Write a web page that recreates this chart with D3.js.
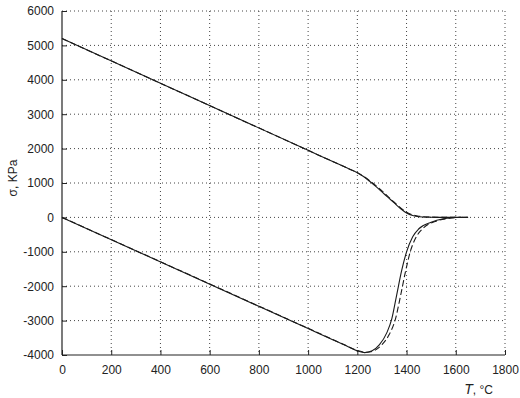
<!DOCTYPE html>
<html>
<head>
<meta charset="utf-8">
<script src="https://cdn.jsdelivr.net/npm/d3@7"></script>
<style>
body { margin: 0; background: #fff; }
svg text { font-family: "Liberation Sans", Arial, sans-serif; font-size: 12px; fill: #222; }
</style>
</head>
<body>
<svg id="chart" width="520" height="398"></svg>
<script>
// temperature (°C) / stress (kPa)
const upperSolidT = [0, 1000, 1100, 1150, 1200, 1225, 1250, 1275, 1300, 1325, 1350, 1375, 1400, 1425, 1450, 1500, 1550, 1650];
const upperSolidS = [5200, 1950, 1625, 1462, 1300, 1190, 1050, 900, 740, 580, 420, 260, 130, 55, 20, 5, 0, 0];
const upperDashT = [0, 1000, 1100, 1150, 1200, 1250, 1300, 1350, 1400, 1450, 1500, 1550, 1620];
const upperDashS = [5200, 1950, 1625, 1462, 1300, 1070, 770, 440, 150, 35, 8, 2, 0];
const lowerSolidT = [0, 1000, 1100, 1150, 1200, 1230, 1260, 1290, 1320, 1340, 1360, 1380, 1400, 1425, 1450, 1500, 1550, 1600, 1650];
const lowerSolidS = [0, -3233, -3557, -3718, -3880, -3930, -3880, -3700, -3350, -2950, -2250, -1550, -1000, -560, -330, -140, -40, -5, 0];
const lowerDashT = [0, 1000, 1100, 1150, 1200, 1240, 1270, 1300, 1330, 1355, 1375, 1395, 1415, 1440, 1470, 1520, 1570, 1620];
const lowerDashS = [0, -3225, -3548, -3709, -3870, -3920, -3870, -3700, -3400, -2950, -2300, -1600, -1000, -560, -300, -110, -30, 0];
const xTicks = [0, 200, 400, 600, 800, 1000, 1200, 1400, 1600, 1800];
const yTicks = [-4000, -3000, -2000, -1000, 0, 1000, 2000, 3000, 4000, 5000, 6000];

const svg = d3.select('#chart');
const margin = {top: 11, right: 15, bottom: 43, left: 62};
const width = 520 - margin.left - margin.right;
const height = 398 - margin.top - margin.bottom;

const x = d3.scaleLinear().domain([0, 1800]).range([0, width]);
const y = d3.scaleLinear().domain([-4000, 6000]).range([height, 0]);

const g = svg.append('g').attr('transform', `translate(${margin.left},${margin.top})`);

// dotted grid
g.append('g').selectAll('line').data(xTicks.slice(1)).enter().append('line')
    .attr('x1', d => x(d)).attr('x2', d => x(d))
    .attr('y1', 0).attr('y2', height)
    .attr('stroke', '#444').attr('stroke-width', 1).attr('stroke-dasharray', '1,3');
g.append('g').selectAll('line').data(yTicks.slice(1)).enter().append('line')
    .attr('x1', 0).attr('x2', width)
    .attr('y1', d => y(d)).attr('y2', d => y(d))
    .attr('stroke', '#444').attr('stroke-width', 1).attr('stroke-dasharray', '1,3');

// axes, ticks pointing inward
const xAxis = g.append('g').attr('transform', `translate(0,${height})`)
    .call(d3.axisBottom(x).tickValues(xTicks).tickSize(-5).tickPadding(10).tickFormat(d3.format('d')));
const yAxis = g.append('g')
    .call(d3.axisLeft(y).tickValues(yTicks).tickSize(-5).tickPadding(8).tickFormat(d => d < 0 ? '-' + Math.abs(d) : d));
[xAxis, yAxis].forEach(a => {
    a.select('.domain').attr('stroke', '#222').attr('stroke-width', 1.2);
    a.selectAll('.tick line').attr('stroke', '#222');
    a.selectAll('text').attr('fill', '#222').style('font-size', '12px');
});
xAxis.select('.domain').attr('d', `M0,0H${width}`);
yAxis.select('.domain').attr('d', `M0,${height}V0`);

const line = d3.line().x(d => x(d[0])).y(d => y(d[1])).curve(d3.curveMonotoneX);
const zip = (ts, ss) => ts.map((t, i) => [t, ss[i]]);

const series = [
    {data: zip(upperDashT, upperDashS), dash: '6,3'},
    {data: zip(lowerDashT, lowerDashS), dash: '6,3'},
    {data: zip(upperSolidT, upperSolidS), dash: null},
    {data: zip(lowerSolidT, lowerSolidS), dash: null}
];
series.forEach(s => {
    g.append('path').datum(s.data)
        .attr('d', line)
        .attr('fill', 'none')
        .attr('stroke', '#1a1a1a')
        .attr('stroke-width', 1.1)
        .attr('stroke-dasharray', s.dash);
});

// axis labels
svg.append('text')
    .attr('transform', `translate(17,${margin.top + height / 2 - 5}) rotate(-90)`)
    .attr('text-anchor', 'middle')
    .text('σ, KPa');
const xl = svg.append('text').attr('x', 493).attr('y', 394).attr('text-anchor', 'end');
xl.append('tspan').style('font-style', 'italic').style('font-size', '14px').text('T');
xl.append('tspan').text(', °C');
</script>
</body>
</html>
